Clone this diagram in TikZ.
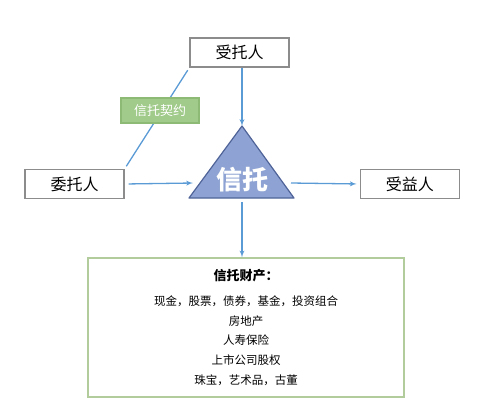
\documentclass[tikz,border=0pt]{standalone}
\usepackage{fontspec}
\newfontfamily\cjk{Noto Sans CJK SC}
\usetikzlibrary{arrows,positioning}
\definecolor{linkblue}{HTML}{5B9BD5}
\definecolor{boxgray}{HTML}{8C8C8C}
\definecolor{dealgreen}{HTML}{A0CB8A}
\definecolor{dealedge}{HTML}{8DBB75}
\definecolor{poolgreen}{HTML}{B3CC9C}
\definecolor{trifill}{HTML}{8EA3D3}
\definecolor{triedge}{HTML}{4F6398}

\begin{document}
\begin{tikzpicture}[x=1pt,y=-1pt,>=latex',line width=1.3pt,
                    party/.style={draw=boxgray,fill=white,minimum width=99pt,
                      minimum height=29pt,font=\cjk\fontsize{16}{16}\selectfont},
                    deal/.style={draw=dealedge,fill=dealgreen,text=white,
                      minimum width=78pt,minimum height=25pt,
                      font=\cjk\fontsize{13}{13}\selectfont},
                    pool/.style={draw=poolgreen,fill=white,minimum width=316pt,
                      minimum height=139pt,align=center,
                      font=\cjk\fontsize{11.5}{19.8}\selectfont},
                    link/.style={->,draw=linkblue}]

  \useasboundingbox (0,0) rectangle (490,413);

  \node[party] (R) at (239.5,52.5) {受托人};
  \node[party] (S) at (74.5,184)   {委托人};
  \node[party] (B) [right=235pt of S] {受益人};

  % the trust triangle
  \coordinate (top) at (242,126);
  \coordinate (bl)  at (189,198);
  \coordinate (br)  at (294,198);
  \draw[triedge,fill=trifill,line width=1.2pt,line join=round]
    (top) -- (bl) -- (br) -- cycle;
  \node[text=white,font=\cjk\bfseries\fontsize{26}{26}\selectfont] (T) at (242,180) {信托};

  \coordinate (Tin)  at (193,183);
  \coordinate (Tout) at (291,183);
  \coordinate (Tbot) at (242,202);

  \node[pool] (P) at (246,327.5)
    {{\bfseries\fontsize{13}{13}\selectfont 信托财产：}\\[5pt]
     现金，股票，债券，基金，投资组合\\
     房地产\\
     人寿保险\\
     上市公司股权\\
     珠宝，艺术品，古董};

  \draw[linkblue,shorten <=3pt,shorten >=3pt] (S.north east) -- (R.south west);
  \node[deal] (K) at (160,110.5) {信托契约};

  \path (R.south -| top) edge[link] (top)
        (S.east)         edge[link,shorten <=4pt] (Tin)
        (Tout)           edge[link,shorten >=3pt] (B.west)
        (Tbot)           edge[link] (P.north -| Tbot);
\end{tikzpicture}
\end{document}
